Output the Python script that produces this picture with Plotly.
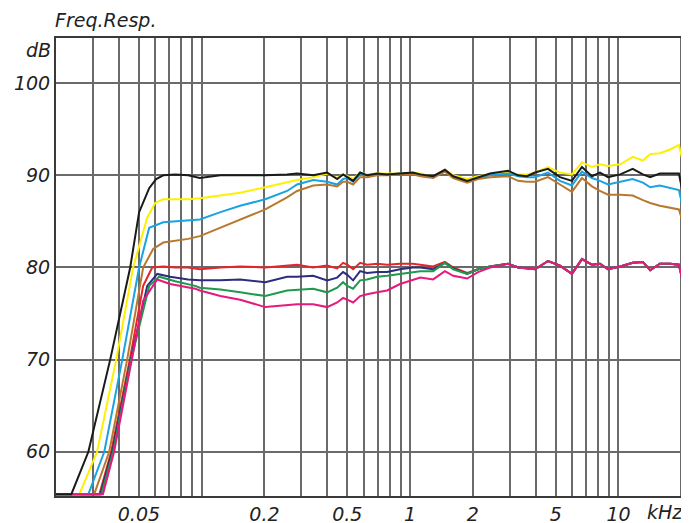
import math
import plotly.graph_objects as go

# shared frequency grid (kHz) for the mid / high band of every curve
f_grid = [0.098, 0.123, 0.153, 0.202, 0.257, 0.287, 0.343, 0.40, 0.447, 0.477,
          0.50, 0.533, 0.576, 0.622, 0.695, 0.776, 0.895, 1.03, 1.12, 1.29,
          1.47, 1.61, 1.88, 2.12, 2.42, 2.95, 3.30, 3.64, 3.98, 4.59,
          5.24, 5.98, 6.68, 7.46, 8.15, 8.91, 10.2, 11.7, 13.1, 14.2,
          15.8, 17.7, 19.5]
f_tail = [20.6, 21.8]

# low-frequency roll-off of each curve (kHz, dB)
black_rise_f = [0.02, 0.0237, 0.0286, 0.0364, 0.0454, 0.0501, 0.0560, 0.0605, 0.0654, 0.0746, 0.0861]
black_rise_db = [55.4, 55.4, 60.0, 70.0, 80.0, 86.0, 88.6, 89.6, 90.0, 90.1, 90.0]
yellow_rise_f = [0.02, 0.0259, 0.0315, 0.0389, 0.0469, 0.0548, 0.0598, 0.0654, 0.0746, 0.0861]
yellow_rise_db = [55.4, 55.4, 60.0, 70.0, 80.0, 85.4, 87.0, 87.4, 87.4, 87.4]
blue_rise_f = [0.02, 0.0286, 0.0341, 0.0416, 0.0501, 0.0560, 0.0654, 0.0746, 0.0861]
blue_rise_db = [55.4, 55.4, 60.0, 70.0, 80.0, 84.3, 84.9, 85.0, 85.1]
brown_rise_f = [0.02, 0.0305, 0.0360, 0.0439, 0.0524, 0.0585, 0.0654, 0.0746, 0.0861]
brown_rise_db = [55.4, 55.4, 60.0, 70.0, 80.0, 82.0, 82.7, 82.9, 83.1]
red_rise_f = [0.02, 0.0323, 0.0368, 0.0452, 0.0524, 0.0579, 0.0654, 0.0746, 0.0861]
red_rise_db = [55.4, 55.4, 60.0, 70.0, 78.0, 80.0, 80.1, 80.0, 80.0]
indigo_rise_f = [0.02, 0.0326, 0.0372, 0.0457, 0.0548, 0.0612, 0.0706, 0.0861]
indigo_rise_db = [55.4, 55.4, 60.0, 70.0, 78.0, 79.3, 79.0, 78.7]
green_rise_f = [0.02, 0.0330, 0.0376, 0.0459, 0.0560, 0.0625, 0.0746, 0.0931]
green_rise_db = [55.4, 55.4, 60.0, 70.0, 78.0, 79.0, 78.5, 78.0]
pink_rise_f = [0.02, 0.0336, 0.0380, 0.0464, 0.0524, 0.0612, 0.0706, 0.0931]
pink_rise_db = [55.4, 55.4, 60.0, 70.0, 76.4, 78.7, 78.2, 77.7]

# levels on f_grid
black_db = [89.7, 90.0, 90.0, 90.0, 90.1, 90.2, 90.0, 90.3, 89.6, 90.1,
            89.8, 89.4, 90.3, 90.0, 90.2, 90.1, 90.2, 90.3, 90.1, 89.9,
            90.6, 89.9, 89.4, 89.8, 90.2, 90.5, 90.0, 89.9, 90.3, 90.7,
            89.8, 89.4, 90.9, 89.9, 90.3, 89.8, 90.1, 90.7, 90.1, 89.8,
            90.2, 90.2, 90.2]
yellow_db = [87.5, 87.8, 88.1, 88.7, 89.3, 89.5, 89.8, 90.2, 89.7, 90.1,
             89.9, 89.6, 90.3, 90.1, 90.2, 90.2, 90.2, 90.3, 90.2, 89.8,
             90.6, 90.0, 89.6, 89.9, 90.1, 90.3, 90.1, 90.1, 90.3, 90.9,
             90.3, 90.1, 91.4, 90.9, 91.2, 91.0, 91.2, 92.0, 91.6, 92.3,
             92.4, 92.8, 93.3]
blue_db = [85.2, 86.0, 86.7, 87.4, 88.3, 89.0, 89.5, 89.3, 89.0, 89.6,
           89.7, 89.3, 90.1, 90.0, 90.1, 90.1, 90.2, 90.2, 90.0, 89.8,
           90.5, 89.8, 89.3, 89.7, 90.0, 90.2, 89.9, 89.8, 89.8, 90.3,
           89.4, 88.9, 90.4, 89.7, 89.4, 89.0, 89.3, 89.6, 89.2, 88.7,
           88.9, 88.6, 88.4]
brown_db = [83.4, 84.3, 85.2, 86.3, 87.6, 88.3, 88.9, 89.0, 88.8, 89.3,
            89.3, 89.0, 89.8, 89.8, 90.0, 90.0, 90.1, 90.1, 89.9, 89.7,
            90.4, 89.7, 89.2, 89.6, 89.8, 89.9, 89.4, 89.3, 89.3, 89.8,
            89.0, 88.2, 89.7, 88.8, 88.3, 87.9, 87.9, 87.8, 87.3, 87.0,
            86.7, 86.5, 86.3]
red_db = [79.8, 80.0, 80.1, 80.0, 80.2, 80.3, 80.0, 80.2, 79.9, 80.5,
          80.3, 79.8, 80.5, 80.3, 80.4, 80.3, 80.4, 80.4, 80.3, 80.1,
          80.6, 80.0, 79.4, 79.8, 80.1, 80.4]
indigo_db = [78.6, 78.6, 78.7, 78.4, 79.0, 79.0, 79.1, 78.6, 78.9, 79.5,
             79.2, 78.6, 79.6, 79.4, 79.5, 79.5, 79.8, 80.0, 80.0, 79.8,
             80.5, 79.9, 79.3, 79.8, 80.1, 80.4]
green_db = [77.8, 77.6, 77.3, 76.9, 77.5, 77.6, 77.7, 77.3, 77.8, 78.4,
            78.0, 77.7, 78.6, 78.7, 79.0, 79.1, 79.3, 79.5, 79.6, 79.6,
            80.5, 79.8, 79.3, 79.8, 80.1, 80.4]
pink_db = [77.5, 76.9, 76.5, 75.7, 75.9, 76.0, 76.0, 75.7, 76.2, 76.7,
           76.5, 76.2, 76.9, 77.1, 77.3, 77.5, 78.2, 78.6, 78.9, 78.7,
           79.6, 79.1, 78.8, 79.5, 80.0, 80.4]
# the four lower curves coincide above ~3 kHz
lower_hf_db = [80.0, 79.9, 79.8, 80.7, 80.2, 79.3, 80.9, 80.3, 80.4, 79.8,
               80.1, 80.5, 80.6, 79.7, 80.4, 80.4, 80.3]

black_tail = [87.5, 84.5]
yellow_tail = [91.0, 86.0]
blue_tail = [86.0, 83.5]
brown_tail = [84.5, 81.5]
lower_tail = [78.0, 74.5]

series = [
    ("red", "#e3262b", red_rise_f, red_rise_db, red_db + lower_hf_db, lower_tail),
    ("indigo", "#2e2b80", indigo_rise_f, indigo_rise_db, indigo_db + lower_hf_db, lower_tail),
    ("green", "#1d9a4b", green_rise_f, green_rise_db, green_db + lower_hf_db, lower_tail),
    ("yellow", "#fff000", yellow_rise_f, yellow_rise_db, yellow_db, yellow_tail),
    ("blue", "#1aa3e2", blue_rise_f, blue_rise_db, blue_db, blue_tail),
    ("brown", "#b8782e", brown_rise_f, brown_rise_db, brown_db, brown_tail),
    ("pink", "#e6197c", pink_rise_f, pink_rise_db, pink_db + lower_hf_db, lower_tail),
    ("black", "#1a1a1a", black_rise_f, black_rise_db, black_db, black_tail),
]

fig = go.Figure()
for name, col, rf, rdb, gdb, tdb in series:
    fig.add_trace(go.Scatter(
        x=rf + f_grid + f_tail,
        y=rdb + gdb + tdb,
        mode="lines",
        line=dict(color=col, width=2),
        name=name,
        showlegend=False,
    ))

# grid: every 1..9 step per decade between 0.03 and 20 kHz
grid_vals = [m * 10 ** e for e in (-2, -1, 0, 1) for m in range(1, 10)]
grid_vals = [round(v, 4) for v in grid_vals if 0.029 < v < 21]
labels = {0.05: "0.05", 0.2: "0.2", 0.5: "0.5", 1: "1", 2: "2", 5: "5", 10: "10"}
grid_text = [labels.get(v, "") for v in grid_vals]

tick_font = dict(family="DejaVu Sans", size=19, style="italic", color="#222222")
grid_col = "#6a6a6a"

# the page body adds an 8px offset; margins are trimmed so the plot area lands in place
fig.update_layout(
    width=689, height=523,
    margin=dict(l=48, r=8, t=30, b=35, autoexpand=False),
    paper_bgcolor="white", plot_bgcolor="white",
    xaxis=dict(
        type="log",
        range=[math.log10(0.02), math.log10(21.8)],
        tickmode="array", tickvals=grid_vals, ticktext=grid_text,
        showgrid=True, gridcolor=grid_col, gridwidth=1.5,
        showline=True, linecolor="#3a3a3a", linewidth=2, mirror=True,
        ticks="", zeroline=False, tickfont=tick_font, automargin=False,
    ),
    yaxis=dict(
        range=[55.2, 104.9],
        tickmode="array", tickvals=[60, 70, 80, 90, 100],
        showgrid=True, gridcolor=grid_col, gridwidth=1.5,
        showline=True, linecolor="#3a3a3a", linewidth=2, mirror=False,
        ticks="", zeroline=False, tickfont=tick_font, automargin=False,
    ),
    annotations=[
        dict(text="Freq.Resp.", xref="paper", yref="paper", x=-0.005, y=1.039,
             xanchor="left", yanchor="middle", showarrow=False, font=tick_font),
        dict(text="dB", xref="paper", yref="paper", x=0, y=0.973, xshift=-3,
             xanchor="right", yanchor="middle", showarrow=False, font=tick_font),
        dict(text="kHz", xref="paper", yref="paper", x=0.962, y=-0.035,
             xanchor="center", yanchor="middle", showarrow=False, font=tick_font),
    ],
)

fig.write_html("out.html")
